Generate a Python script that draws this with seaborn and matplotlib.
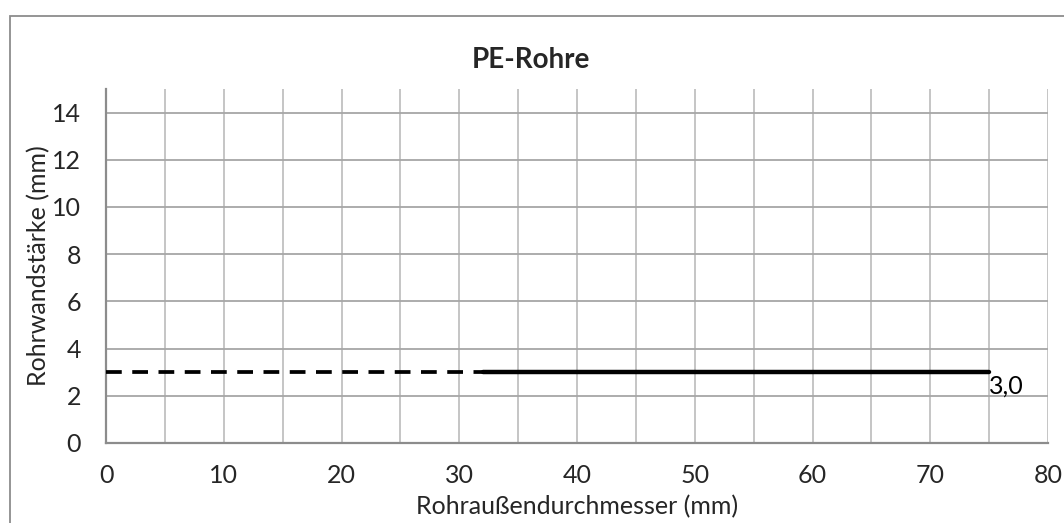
import matplotlib
matplotlib.use("Agg")
import matplotlib.pyplot as plt
import seaborn as sns
import pandas as pd
from matplotlib.patches import Rectangle

# Data
dashed_x = [0, 32]
dashed_y = [3.0, 3.0]
solid_x = [32, 75]
solid_y = [3.0, 3.0]
label_text = "3,0"
title = "PE-Rohre"
xlabel = "Rohraußendurchmesser (mm)"
ylabel = "Rohrwandstärke (mm)"

sns.set_theme(style="white")
plt.rcParams['font.family'] = ['Lato', 'DejaVu Sans']

W, H = 1064, 523
fig = plt.figure(figsize=(W / 100, H / 100), dpi=100)
x0, x1, ytop, ybot = 106, 1048, 89, 443
ax = fig.add_axes([x0 / W, 1 - ybot / H, (x1 - x0) / W, (ybot - ytop) / H])

fig.patches.append(Rectangle((10 / W, -0.1), 1.2, 1 - 16 / H + 0.1, transform=fig.transFigure,
                             fill=False, edgecolor="#8c8c8c", linewidth=1.3, zorder=0))

df_d = pd.DataFrame({"x": dashed_x, "y": dashed_y})
df_s = pd.DataFrame({"x": solid_x, "y": solid_y})
sns.lineplot(data=df_d, x="x", y="y", ax=ax, color="black", linewidth=2.7, linestyle=(0, (4.2, 2.8)), zorder=5)
sns.lineplot(data=df_s, x="x", y="y", ax=ax, color="black", linewidth=3.2, zorder=5)
ax.text(solid_x[-1], solid_y[-1] - 0.12, label_text, ha="left", va="top", fontsize=18, color="black")

ax.set_xlim(0, 80)
ax.set_ylim(0, 15)
ax.set_xticks(range(0, 81, 10))
ax.set_xticks(range(0, 81, 5), minor=True)
ax.set_yticks(range(0, 15, 2))
ax.tick_params(axis="both", which="major", labelsize=18, length=6, width=1.2, color="#8c8c8c", direction="out")
ax.tick_params(axis="x", which="minor", length=0)
ax.tick_params(axis="x", which="major", pad=9)
ax.tick_params(axis="y", which="major", pad=12)

ax.grid(False)
for v in range(5, 81, 5):
    ax.axvline(v, color="#c0c0c0", linewidth=1.3, zorder=1)
for v in range(2, 15, 2):
    ax.axhline(v, color="#a6a6a6", linewidth=1.3, zorder=1)

for s in ["top", "right"]:
    ax.spines[s].set_visible(False)
for s in ["left", "bottom"]:
    ax.spines[s].set_color("#8c8c8c")
    ax.spines[s].set_linewidth(1.6)

fig.text(0.5 * (x0 + x1) / W - 0.043, 1 - 60 / H, title, fontsize=20, fontweight="bold", ha="center", va="center")
ax.set_xlabel(xlabel, fontsize=18)
ax.xaxis.set_label_coords(0.5, (ybot - 495) / (ybot - ytop))
ax.set_ylabel(ylabel, fontsize=18)
ax.yaxis.set_label_coords((50 - x0) / (x1 - x0), 0.5)

fig.savefig("out.png", dpi=100)
